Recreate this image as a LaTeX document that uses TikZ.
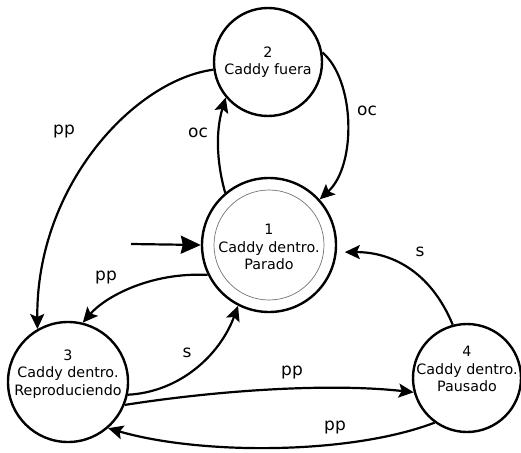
\documentclass[tikz,border=0pt]{standalone}
\usepackage{fontspec}
\setmainfont{DejaVu Sans}
\usetikzlibrary{arrows.meta}
\begin{document}
\begin{tikzpicture}[x=1pt,y=-1pt,
  statecircle/.style={circle,draw,line width=2.4pt,minimum size=#1,inner sep=0pt},
  innercircle/.style={circle,draw=black!55,line width=0.7pt,minimum size=#1,inner sep=0pt},
  stxt/.style={align=center,inner sep=0pt,font=\fontsize{14.3}{17.5}\selectfont},
  lab/.style={inner sep=0pt,font=\fontsize{17}{20}\selectfont},
  trans/.style={line width=2.2pt,-{Stealth[length=15pt,width=14pt,inset=3pt]}},
  initarr/.style={line width=2.2pt,-{Stealth[length=20pt,width=18pt,inset=2pt]}}
]
\useasboundingbox (0,0) rectangle (521,452);
% states
\node[statecircle=134pt] (n1) at (269,245) {};
\node[innercircle=110pt] (n1i) at (269,245) {};
\node[statecircle=108pt] (n2) at (268,62) {};
\node[statecircle=120pt] (n3) at (68,382) {};
\node[statecircle=108pt] (n4) at (467,378) {};
% state texts
\node[stxt] (t1) at (269,247) {1\\Caddy dentro.\\Parado};
\node[stxt] (t2) at (268,62) {2\\Caddy fuera};
\node[stxt] (t3) at (68,374) {3\\Caddy dentro.\\Reproduciendo};
\node[stxt] (t4) at (467,369) {4\\Caddy dentro.\\Pausado};
% initial arrow
\coordinate (i0) at (131,244);
\draw[initarr] (i0) -- (n1.west);
% transitions
\draw[trans] (n1.130) .. controls (216,160) and (216,130) .. (n2.220);
\draw[trans] (n2.10) .. controls (355,80) and (357,165) .. (n1.42);
\draw[trans] (n2.188) .. controls (135,80) and (36,185) .. (n3.120);
\draw[trans] (n1.206) .. controls (150,272) and (105,297) .. (n3.76);
\draw[trans] (n3.-12) .. controls (180,392) and (220,355) .. (n1.243);
\draw[trans] (n3.-22) .. controls (220,390) and (330,383) .. (n4.195);
\draw[trans] (n4.234) .. controls (350,455) and (200,455) .. (n3.-49);
\draw[trans,shorten >=8pt] (n4.105) .. controls (430,270) and (390,252) .. (n1.-6);
% labels
\node[lab] (l1) at (64,132) {pp};
\node[lab] (l2) at (198,133) {oc};
\node[lab] (l3) at (367,111) {oc};
\node[lab] (l4) at (106,278) {pp};
\node[lab] (l5) at (187,353) {s};
\node[lab] (l6) at (292,373) {pp};
\node[lab] (l7) at (335,427) {pp};
\node[lab] (l8) at (420,252) {s};
\end{tikzpicture}
\end{document}
